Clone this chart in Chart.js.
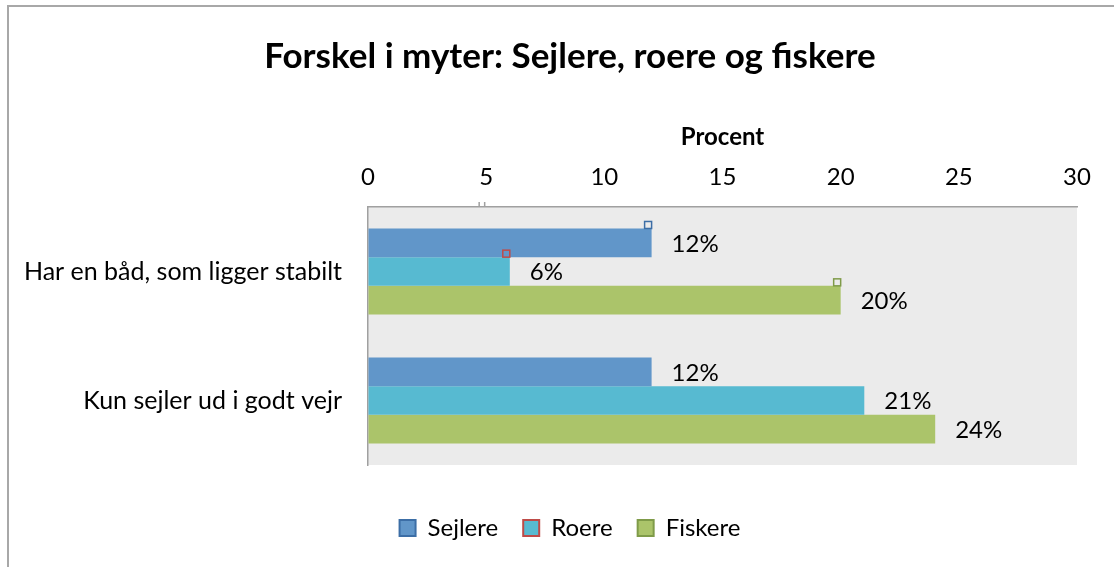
<!DOCTYPE html>
<html lang="da">
<head>
<meta charset="utf-8">
<title>Forskel i myter</title>
<script src="https://cdn.jsdelivr.net/npm/chart.js@4.4.1/dist/chart.umd.min.js"></script>
<style>
  html, body { margin: 0; padding: 0; background: #fff; overflow: hidden; }
  #frame {
    position: absolute; left: 7px; top: 5px; width: 1300px; height: 700px;
    border-left: 2px solid #a8a8a8; border-top: 2px solid #a8a8a8;
  }
  #wrap { position: absolute; left: 0; top: 0; width: 1114px; height: 567px; }
</style>
</head>
<body>
<div id="frame"></div>
<div id="wrap"><canvas id="chart" width="1114" height="567"></canvas></div>
<script>
  const CATEGORIES = ['Har en båd, som ligger stabilt', 'Kun sejler ud i godt vejr'];
  const SERIES_NAMES = ['Sejlere', 'Roere', 'Fiskere'];
  const SEJLERE = [12, 12];
  const ROERE = [6, 21];
  const FISKERE = [20, 24];
  const X_TICKS = [0, 5, 10, 15, 20, 25, 30];

  const FILLS = ['#6196c9', '#57bad1', '#abc46a'];
  const EDGES = ['#3c6ea6', '#be4b48', '#7f9b49'];
  const FONT = 'Lato';

  // grå baggrund bag plotområdet
  const plotBackground = {
    id: 'plotBackground',
    beforeDraw(chart) {
      const { ctx, chartArea: a } = chart;
      ctx.save();
      ctx.fillStyle = '#ebebeb';
      ctx.fillRect(a.left, a.top, a.right - a.left, a.bottom - a.top);
      ctx.restore();
    }
  };

  // procent-etiketter til højre for hver søjle
  const barLabels = {
    id: 'barLabels',
    afterDatasetsDraw(chart) {
      const { ctx } = chart;
      ctx.save();
      ctx.font = `24px ${FONT}`;
      ctx.fillStyle = '#000';
      ctx.textAlign = 'left';
      ctx.textBaseline = 'middle';
      chart.data.datasets.forEach((ds, i) => {
        chart.getDatasetMeta(i).data.forEach((bar, j) => {
          ctx.fillText(ds.data[j] + '%', bar.x + 20, bar.y + 1);
        });
      });
      ctx.restore();
    }
  };

  // små markeringsfirkanter ved enden af den første gruppes søjler
  const endMarkers = {
    id: 'endMarkers',
    afterDatasetsDraw(chart) {
      const { ctx } = chart;
      ctx.save();
      ctx.lineWidth = 1.5;
      chart.data.datasets.forEach((ds, i) => {
        const bar = chart.getDatasetMeta(i).data[0];
        ctx.strokeStyle = EDGES[i];
        ctx.strokeRect(bar.x - 7, bar.y - bar.height / 2 - 7, 7, 7);
      });
      const xs = chart.scales.x;
      const px = xs.getPixelForValue(X_TICKS[1]);
      ctx.strokeStyle = '#a0a0a0';
      ctx.beginPath();
      ctx.moveTo(px - 7, chart.chartArea.top - 5);
      ctx.lineTo(px - 7, chart.chartArea.top);
      ctx.moveTo(px - 1.5, chart.chartArea.top - 5);
      ctx.lineTo(px - 1.5, chart.chartArea.top);
      ctx.stroke();
      ctx.restore();
    }
  };

  const datasets = [SEJLERE, ROERE, FISKERE].map((values, i) => ({
    label: SERIES_NAMES[i],
    data: values,
    backgroundColor: FILLS[i],
    borderWidth: 0,
    categoryPercentage: 0.667,
    barPercentage: 1
  }));

  const spacer = (axis, position, size) => ({
    axis,
    type: 'linear',
    position,
    display: true,
    ticks: { display: false },
    grid: { display: false },
    border: { display: false },
    afterFit(scale) {
      if (axis === 'x') scale.height = size;
      else scale.width = size;
    }
  });

  new Chart(document.getElementById('chart'), {
    type: 'bar',
    data: { labels: CATEGORIES, datasets },
    options: {
      indexAxis: 'y',
      responsive: false,
      animation: false,
      events: [],
      layout: { padding: { left: 26, right: 0, top: 0, bottom: 17 } },
      plugins: {
        title: {
          display: true,
          text: 'Forskel i myter: Sejlere, roere og fiskere',
          color: '#000',
          font: { family: FONT, size: 35, weight: 'bold' },
          padding: { top: 36, bottom: 10 }
        },
        legend: {
          position: 'bottom',
          labels: {
            color: '#000',
            font: { family: FONT, size: 24 },
            boxWidth: 16,
            boxHeight: 16,
            padding: 25,
            generateLabels(chart) {
              return chart.data.datasets.map((ds, i) => ({
                text: ds.label,
                fillStyle: FILLS[i],
                strokeStyle: EDGES[i],
                lineWidth: 2,
                datasetIndex: i
              }));
            }
          }
        },
        tooltip: { enabled: false }
      },
      scales: {
        y: {
          position: 'left',
          grid: { drawOnChartArea: false, drawTicks: false, color: 'rgba(0,0,0,0)' },
          border: { display: true, color: '#a0a0a0', width: 1.5 },
          ticks: { color: '#000', font: { family: FONT, size: 25 }, padding: 26 },
          afterFit(scale) { scale.width = 342; }
        },
        x: {
          position: 'top',
          min: X_TICKS[0],
          max: X_TICKS[X_TICKS.length - 1],
          afterBuildTicks(scale) { scale.ticks = X_TICKS.map((v) => ({ value: v })); },
          grid: { drawOnChartArea: false, drawTicks: false, color: 'rgba(0,0,0,0)' },
          border: { display: true, color: '#a0a0a0', width: 1.5 },
          ticks: { color: '#000', font: { family: FONT, size: 24 }, padding: 15 },
          title: {
            display: true,
            text: 'Procent',
            color: '#000',
            font: { family: FONT, size: 24, weight: 'bold' },
            padding: { top: 35, bottom: 0 }
          },
          afterFit(scale) { scale.height = 119; }
        },
        yRightGap: spacer('y', 'right', 37),
        xBottomGap: spacer('x', 'bottom', 26)
      }
    },
    plugins: [plotBackground, barLabels, endMarkers]
  });
</script>
</body>
</html>
